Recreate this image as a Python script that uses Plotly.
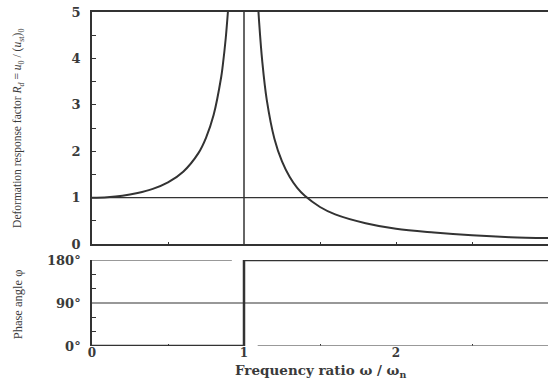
import plotly.graph_objects as go
from plotly.subplots import make_subplots

# Deformation response factor (left and right branches)
r_left = [0.0, 0.1, 0.2, 0.3, 0.4, 0.5, 0.6, 0.7, 0.75, 0.8, 0.85, 0.86, 0.88, 0.9]
rd_left = [1.0, 1.01, 1.04, 1.10, 1.19, 1.33, 1.56, 1.96, 2.29, 2.78, 3.60, 3.84, 4.44, 5.26]
r_right = [1.09, 1.1, 1.12, 1.15, 1.2, 1.25, 1.3, 1.35, 1.4, 1.5, 1.6, 1.8, 2.0, 2.25, 2.5, 2.75, 3.0]
rd_right = [5.30, 4.76, 3.94, 3.10, 2.27, 1.78, 1.45, 1.21, 1.04, 0.80, 0.64, 0.45, 0.33, 0.25, 0.19, 0.15, 0.13]

# Phase angle
r_phase = [0.0, 1.0, 1.0, 3.0]
phi = [0, 0, 180, 180]

x_ticks = [0, 1, 2, 3]
rd_ticks = [0, 1, 2, 3, 4, 5]
phi_ticks = [0, 90, 180]
phi_labels = ["0°", "90°", "180°"]

ink = "#333333"
txt = "#3a3a3a"
serif = "Liberation Serif"
wide = "DejaVu Serif"

fig = make_subplots(rows=2, cols=1, shared_xaxes=False, vertical_spacing=0.0)

fig.add_trace(go.Scatter(x=r_left, y=rd_left, mode="lines", line=dict(color=ink, width=2, shape="spline"),
                         showlegend=False), row=1, col=1)
fig.add_trace(go.Scatter(x=r_right, y=rd_right, mode="lines", line=dict(color=ink, width=2, shape="spline"),
                         showlegend=False), row=1, col=1)
fig.add_trace(go.Scatter(x=r_phase, y=phi, mode="lines", line=dict(color=ink, width=2.5),
                         showlegend=False), row=2, col=1)

# reference lines
fig.add_shape(type="line", xref="x", yref="y", x0=0, x1=3, y0=1, y1=1, line=dict(color=ink, width=1.2))
fig.add_shape(type="line", xref="x", yref="y", x0=1, x1=1, y0=0, y1=5, line=dict(color=ink, width=1.5))
fig.add_shape(type="line", xref="x2", yref="y2", x0=0, x1=3, y0=90, y1=90, line=dict(color=ink, width=1.2))
fig.add_shape(type="line", xref="x2", yref="y2", x0=0, x1=0.92, y0=180, y1=180, line=dict(color="#777777", width=1.5))
fig.add_shape(type="line", xref="x2", yref="y2", x0=1.09, x1=3, y0=0, y1=0, line=dict(color="#777777", width=1.5))

fig.update_layout(
    width=548, height=380,
    margin=dict(l=92, r=0, t=12, b=34, autoexpand=False),
    plot_bgcolor="white", paper_bgcolor="white",
    font=dict(family=serif, color=txt, size=13),
)

tickfont = dict(family=wide, size=13, color=txt)
xtickfont = dict(family=wide, size=12, color=txt)
fig.update_layout(
    xaxis=dict(range=[0, 3], domain=[0, 1], automargin=False, showgrid=False, zeroline=False,
               showline=True, linecolor=ink, linewidth=1.5, mirror=True,
               showticklabels=False, ticks="inside", tickvals=[0.5, 1.5, 2, 2.5], ticklen=2, tickcolor=ink),
    yaxis=dict(domain=[0.305, 1.0], range=[0, 5], automargin=False, showline=True, linecolor=ink,
               linewidth=1.5, mirror=True, showgrid=False, zeroline=False, tickvals=rd_ticks,
               ticktext=["<b>%d</b>" % v for v in rd_ticks], ticks="inside", ticklen=4, tickcolor=ink,
               tickfont=tickfont, ticklabelstandoff=7,
               minor=dict(tickvals=[0.5, 1.5, 2.5, 3.5, 4.5], ticks="inside", ticklen=4, tickcolor=ink)),
    xaxis2=dict(range=[0, 3], domain=[0, 1], automargin=False, showgrid=False, zeroline=False, showline=False,
                tickvals=x_ticks, ticktext=["<b>%d</b>" % v for v in x_ticks],
                ticks="", tickfont=xtickfont, ticklabelstandoff=-2,
                minor=dict(tickvals=[0.5, 1.5, 2.5], ticks="inside", ticklen=2, tickcolor=ink)),
    yaxis2=dict(domain=[0.0, 0.2575], range=[0, 180], automargin=False, showline=True, linecolor=ink,
                linewidth=1.5, showgrid=False, zeroline=False, tickvals=phi_ticks,
                ticktext=["<b>%s</b>" % s for s in phi_labels],
                ticks="", tickfont=tickfont, ticklabelstandoff=7,
                minor=dict(tickvals=[30, 60, 120, 150], ticks="inside", ticklen=4, tickcolor=ink)),
)

fig.add_annotation(text="<b>Frequency ratio ω / ω<sub>n</sub></b>", xref="paper", yref="paper",
                   x=0.5, y=0, yshift=-25, showarrow=False, xanchor="center", yanchor="middle",
                   font=dict(family=wide, size=13.5, color=txt))
fig.add_annotation(text="Deformation response factor <i>R<sub>d</sub></i> = <i>u</i><sub>0</sub> / (<i>u</i><sub>st</sub>)<sub>0</sub>",
                   xref="paper", yref="paper", x=-74/456, y=0.65, textangle=-90, showarrow=False,
                   font=dict(family=serif, size=11.5, color=txt), xanchor="center", yanchor="middle")
fig.add_annotation(text="Phase angle φ",
                   xref="paper", yref="paper", x=-74/456, y=0.125, textangle=-90, showarrow=False,
                   font=dict(family=serif, size=12.5, color=txt), xanchor="center", yanchor="middle")

fig.write_html("out.html", config={"displayModeBar": False},
               post_script="document.body.style.margin='0';")
